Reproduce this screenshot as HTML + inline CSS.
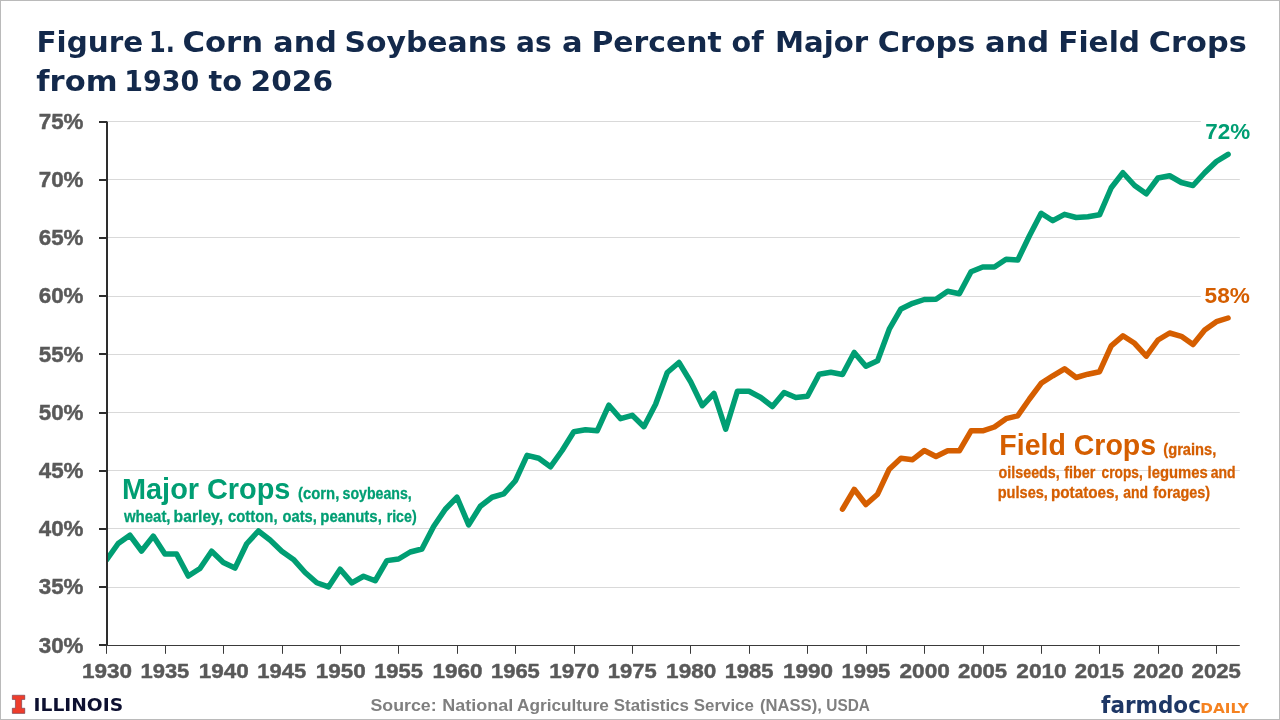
<!DOCTYPE html>
<html lang="en"><head><meta charset="utf-8"><title>Figure 1. Corn and Soybeans as a Percent of Major Crops and Field Crops</title>
<style>
html,body{margin:0;padding:0;background:#fff;}
body{width:1280px;height:720px;overflow:hidden;}
svg{display:block;}
text{font-family:"Liberation Sans",sans-serif;font-weight:bold;}
.dj{font-family:"DejaVu Sans","Liberation Sans",sans-serif;}
</style></head><body>
<svg width="1280" height="720" viewBox="0 0 1280 720">
<rect x="0.5" y="0.5" width="1279" height="719" fill="#fff" stroke="#bababa" stroke-width="1"/>

<g fill="#d9d9d9">
<rect x="108" y="587" width="1131.8" height="1"/>
<rect x="108" y="528" width="1131.8" height="1"/>
<rect x="108" y="470" width="1131.8" height="1"/>
<rect x="108" y="412" width="1131.8" height="1"/>
<rect x="108" y="354" width="1131.8" height="1"/>
<rect x="108" y="296" width="1092.8" height="1"/>
<rect x="108" y="237" width="1131.8" height="1"/>
<rect x="108" y="179" width="1131.8" height="1"/>
<rect x="108" y="121" width="1092.8" height="1"/>
</g>
<clipPath id="plot"><rect x="106.5" y="100" width="1150" height="560"/></clipPath>
<polyline clip-path="url(#plot)" points="106.5,560 118.18,543.5 129.87,535.25 141.55,551 153.23,536.1 164.91,554 176.6,554 188.28,576 199.96,568.5 211.65,551.25 223.33,562.5 235.01,568.1 246.7,543.75 258.38,531.0 270.06,540 281.75,551.25 293.43,559.4 305.11,572.5 316.79,582.75 328.48,586.9 340.16,569.25 351.84,582.9 363.53,576.25 375.21,580.75 386.89,560.6 398.57,559 410.26,552 421.94,549 433.62,526.5 445.31,509.25 456.99,497.25 468.67,524.85 480.36,506.25 492.04,497.25 503.72,493.8 515.4,480.75 527.09,455.4 538.77,458.25 550.45,466.8 562.14,450.5 573.82,431.7 585.5,429.7 597.19,430.8 608.87,405.2 620.55,418.7 632.24,415.3 643.92,426.7 655.6,404.2 667.28,372.5 678.97,362.5 690.65,381.7 702.33,405.7 714.02,393.5 725.7,429.2 737.38,391.3 749.06,391.3 760.75,397.5 772.43,406.5 784.11,392.5 795.8,397.5 807.48,396.3 819.16,374.2 830.85,372.3 842.53,374.5 854.21,352.5 865.89,366.2 877.58,360.8 889.26,329.2 900.94,308.9 912.63,303.3 924.31,299.5 935.99,299.2 947.68,291.3 959.36,293.7 971.04,271.7 982.73,267 994.41,267 1006.09,259.3 1017.77,260 1029.46,235.8 1041.14,213.3 1052.82,220.7 1064.51,214.3 1076.19,217.5 1087.87,216.8 1099.55,214.8 1111.24,187.75 1122.92,172.75 1134.6,185.5 1146.29,193.75 1157.97,178 1169.65,175.75 1181.34,182.5 1193.02,185.5 1204.7,172.75 1216.38,161.5 1228.07,154.3" fill="none" stroke="#009E73" stroke-width="5.5" stroke-linejoin="round" stroke-linecap="round"/>
<polyline points="842.53,509.2 854.21,489.3 865.89,504.5 877.58,494.2 889.26,469.2 900.94,458.3 912.63,459.7 924.31,450.5 935.99,456.5 947.68,450.8 959.36,450.8 971.04,430.8 982.73,430.8 994.41,427 1006.09,418.7 1017.77,415.8 1029.46,399 1041.14,383.3 1052.82,375.8 1064.51,368.8 1076.19,377.5 1087.87,374.2 1099.55,371.7 1111.24,345.8 1122.92,335.8 1134.6,343.3 1146.29,356.2 1157.97,340 1169.65,333 1181.34,336.3 1193.02,344.5 1204.7,330 1216.38,321.7 1228.07,318" fill="none" stroke="#D55E00" stroke-width="5.5" stroke-linejoin="round" stroke-linecap="round"/>
<g fill="#2e2e2e">
<rect x="106" y="121.5" width="2" height="524"/>
<rect x="106" y="645" width="1133.8" height="1" fill="#3a3a3a"/>
<rect x="99" y="644" width="8" height="2"/>
<rect x="99" y="586" width="8" height="2"/>
<rect x="99" y="528" width="8" height="2"/>
<rect x="99" y="470" width="8" height="2"/>
<rect x="99" y="412" width="8" height="2"/>
<rect x="99" y="353" width="8" height="2"/>
<rect x="99" y="295" width="8" height="2"/>
<rect x="99" y="237" width="8" height="2"/>
<rect x="99" y="179" width="8" height="2"/>
<rect x="99" y="121" width="8" height="2"/>
<rect x="106" y="645" width="1" height="8.8" fill="#3a3a3a"/>
<rect x="165" y="645" width="1" height="8.8" fill="#3a3a3a"/>
<rect x="223" y="645" width="1" height="8.8" fill="#3a3a3a"/>
<rect x="282" y="645" width="1" height="8.8" fill="#3a3a3a"/>
<rect x="340" y="645" width="1" height="8.8" fill="#3a3a3a"/>
<rect x="398" y="645" width="1" height="8.8" fill="#3a3a3a"/>
<rect x="457" y="645" width="1" height="8.8" fill="#3a3a3a"/>
<rect x="515" y="645" width="1" height="8.8" fill="#3a3a3a"/>
<rect x="574" y="645" width="1" height="8.8" fill="#3a3a3a"/>
<rect x="632" y="645" width="1" height="8.8" fill="#3a3a3a"/>
<rect x="690" y="645" width="1" height="8.8" fill="#3a3a3a"/>
<rect x="749" y="645" width="1" height="8.8" fill="#3a3a3a"/>
<rect x="807" y="645" width="1" height="8.8" fill="#3a3a3a"/>
<rect x="866" y="645" width="1" height="8.8" fill="#3a3a3a"/>
<rect x="924" y="645" width="1" height="8.8" fill="#3a3a3a"/>
<rect x="983" y="645" width="1" height="8.8" fill="#3a3a3a"/>
<rect x="1041" y="645" width="1" height="8.8" fill="#3a3a3a"/>
<rect x="1099" y="645" width="1" height="8.8" fill="#3a3a3a"/>
<rect x="1158" y="645" width="1" height="8.8" fill="#3a3a3a"/>
<rect x="1216" y="645" width="1" height="8.8" fill="#3a3a3a"/>
</g>
<text class="dj" x="36.46" y="51.6" font-size="28.9px" fill="#13294B" textLength="106.64" lengthAdjust="spacingAndGlyphs">Figure</text>
<text class="dj" x="149.01" y="51.6" font-size="28.9px" fill="#13294B" textLength="25.84" lengthAdjust="spacingAndGlyphs">1.</text>
<text class="dj" x="182.44" y="51.6" font-size="28.9px" fill="#13294B" textLength="80.53" lengthAdjust="spacingAndGlyphs">Corn</text>
<text class="dj" x="273.35" y="51.6" font-size="28.9px" fill="#13294B" textLength="63.50" lengthAdjust="spacingAndGlyphs">and</text>
<text class="dj" x="344.43" y="51.6" font-size="28.9px" fill="#13294B" textLength="162.30" lengthAdjust="spacingAndGlyphs">Soybeans</text>
<text class="dj" x="516.03" y="51.6" font-size="28.9px" fill="#13294B" textLength="35.63" lengthAdjust="spacingAndGlyphs">as</text>
<text class="dj" x="561.94" y="51.6" font-size="28.9px" fill="#13294B" textLength="20.64" lengthAdjust="spacingAndGlyphs">a</text>
<text class="dj" x="591.43" y="51.6" font-size="28.9px" fill="#13294B" textLength="130.37" lengthAdjust="spacingAndGlyphs">Percent</text>
<text class="dj" x="731.51" y="51.6" font-size="28.9px" fill="#13294B" textLength="32.06" lengthAdjust="spacingAndGlyphs">of</text>
<text class="dj" x="775.08" y="51.6" font-size="28.9px" fill="#13294B" textLength="93.16" lengthAdjust="spacingAndGlyphs">Major</text>
<text class="dj" x="877.75" y="51.6" font-size="28.9px" fill="#13294B" textLength="97.50" lengthAdjust="spacingAndGlyphs">Crops</text>
<text class="dj" x="984.94" y="51.6" font-size="28.9px" fill="#13294B" textLength="64.34" lengthAdjust="spacingAndGlyphs">and</text>
<text class="dj" x="1058.15" y="51.6" font-size="28.9px" fill="#13294B" textLength="81.88" lengthAdjust="spacingAndGlyphs">Field</text>
<text class="dj" x="1148.85" y="51.6" font-size="28.9px" fill="#13294B" textLength="97.91" lengthAdjust="spacingAndGlyphs">Crops</text>
<text class="dj" x="36.30" y="90.6" font-size="28.9px" fill="#13294B" textLength="81.23" lengthAdjust="spacingAndGlyphs">from</text>
<text class="dj" x="124.30" y="90.6" font-size="28.9px" fill="#13294B" textLength="74.92" lengthAdjust="spacingAndGlyphs">1930</text>
<text class="dj" x="208.50" y="90.6" font-size="28.9px" fill="#13294B" textLength="33.65" lengthAdjust="spacingAndGlyphs">to</text>
<text class="dj" x="250.55" y="90.6" font-size="28.9px" fill="#13294B" textLength="82.48" lengthAdjust="spacingAndGlyphs">2026</text>
<text x="122.02" y="499.3" font-size="29.6px" fill="#009E73" textLength="168.42" lengthAdjust="spacingAndGlyphs">Major Crops</text>
<text x="298.00" y="498.8" font-size="16.6px" fill="#009E73" stroke="#009E73" stroke-width="0.3" textLength="41.30" lengthAdjust="spacingAndGlyphs">(corn,</text>
<text x="342.50" y="498.8" font-size="16.6px" fill="#009E73" stroke="#009E73" stroke-width="0.3" textLength="69.27" lengthAdjust="spacingAndGlyphs">soybeans,</text>
<text x="123.90" y="522" font-size="16.6px" fill="#009E73" stroke="#009E73" stroke-width="0.3" textLength="46.65" lengthAdjust="spacingAndGlyphs">wheat,</text>
<text x="173.55" y="522" font-size="16.6px" fill="#009E73" stroke="#009E73" stroke-width="0.3" textLength="49.53" lengthAdjust="spacingAndGlyphs">barley,</text>
<text x="228.00" y="522" font-size="16.6px" fill="#009E73" stroke="#009E73" stroke-width="0.3" textLength="49.55" lengthAdjust="spacingAndGlyphs">cotton,</text>
<text x="282.50" y="522" font-size="16.6px" fill="#009E73" stroke="#009E73" stroke-width="0.3" textLength="34.29" lengthAdjust="spacingAndGlyphs">oats,</text>
<text x="320.35" y="522" font-size="16.6px" fill="#009E73" stroke="#009E73" stroke-width="0.3" textLength="61.45" lengthAdjust="spacingAndGlyphs">peanuts,</text>
<text x="386.64" y="522" font-size="16.6px" fill="#009E73" stroke="#009E73" stroke-width="0.3" textLength="30.06" lengthAdjust="spacingAndGlyphs">rice)</text>
<text x="999.34" y="455.3" font-size="29.6px" fill="#D55E00" textLength="156.81" lengthAdjust="spacingAndGlyphs">Field Crops</text>
<text x="1163.30" y="455" font-size="16.6px" fill="#D55E00" stroke="#D55E00" stroke-width="0.3" textLength="53.04" lengthAdjust="spacingAndGlyphs">(grains,</text>
<text x="998.60" y="478" font-size="16.6px" fill="#D55E00" stroke="#D55E00" stroke-width="0.3" textLength="61.13" lengthAdjust="spacingAndGlyphs">oilseeds,</text>
<text x="1064.20" y="478" font-size="16.6px" fill="#D55E00" stroke="#D55E00" stroke-width="0.3" textLength="31.13" lengthAdjust="spacingAndGlyphs">fiber</text>
<text x="1101.60" y="478" font-size="16.6px" fill="#D55E00" stroke="#D55E00" stroke-width="0.3" textLength="41.10" lengthAdjust="spacingAndGlyphs">crops,</text>
<text x="1147.61" y="478" font-size="16.6px" fill="#D55E00" stroke="#D55E00" stroke-width="0.3" textLength="60.10" lengthAdjust="spacingAndGlyphs">legumes</text>
<text x="1210.80" y="478" font-size="16.6px" fill="#D55E00" stroke="#D55E00" stroke-width="0.3" textLength="24.81" lengthAdjust="spacingAndGlyphs">and</text>
<text x="997.72" y="498.1" font-size="16.6px" fill="#D55E00" stroke="#D55E00" stroke-width="0.3" textLength="50.21" lengthAdjust="spacingAndGlyphs">pulses,</text>
<text x="1050.88" y="498.1" font-size="16.6px" fill="#D55E00" stroke="#D55E00" stroke-width="0.3" textLength="67.98" lengthAdjust="spacingAndGlyphs">potatoes,</text>
<text x="1123.30" y="498.1" font-size="16.6px" fill="#D55E00" stroke="#D55E00" stroke-width="0.3" textLength="24.81" lengthAdjust="spacingAndGlyphs">and</text>
<text x="1153.30" y="498.1" font-size="16.6px" fill="#D55E00" stroke="#D55E00" stroke-width="0.3" textLength="56.86" lengthAdjust="spacingAndGlyphs">forages)</text>
<text x="370.50" y="710.75" font-size="16.5px" fill="#7f7f7f" textLength="66.11" lengthAdjust="spacingAndGlyphs">Source:</text>
<text x="442.16" y="710.75" font-size="16.5px" fill="#7f7f7f" textLength="70.98" lengthAdjust="spacingAndGlyphs">National</text>
<text x="517.00" y="710.75" font-size="16.5px" fill="#7f7f7f" textLength="91.93" lengthAdjust="spacingAndGlyphs">Agriculture</text>
<text x="613.75" y="710.75" font-size="16.5px" fill="#7f7f7f" textLength="75.18" lengthAdjust="spacingAndGlyphs">Statistics</text>
<text x="693.75" y="710.75" font-size="16.5px" fill="#7f7f7f" textLength="60.18" lengthAdjust="spacingAndGlyphs">Service</text>
<text x="760.00" y="710.75" font-size="16.5px" fill="#7f7f7f" textLength="61.84" lengthAdjust="spacingAndGlyphs">(NASS),</text>
<text x="826.25" y="710.75" font-size="16.5px" fill="#7f7f7f" textLength="43.67" lengthAdjust="spacingAndGlyphs">USDA</text>
<text x="1205.25" y="139" font-size="21.3px" fill="#009E73" textLength="44.88" lengthAdjust="spacingAndGlyphs">72%</text>
<text x="1204.60" y="302.7" font-size="21.3px" fill="#D55E00" textLength="45.33" lengthAdjust="spacingAndGlyphs">58%</text>
<text class="dj" x="33.57" y="710.8" font-size="18.2px" fill="#0d1030" textLength="89.55" lengthAdjust="spacingAndGlyphs">ILLINOIS</text>
<text class="dj" x="1101.10" y="713.1" font-size="23px" fill="#1e3765" textLength="99.79" lengthAdjust="spacingAndGlyphs">farmdoc</text>
<text class="dj" x="1200.33" y="713.1" font-size="14.3px" fill="#F58220" textLength="48.48" lengthAdjust="spacingAndGlyphs">DAILY</text>
<text x="38.75" y="652.5" font-size="21.8px" fill="#595959" stroke="#595959" stroke-width="0.45" textLength="44.74" lengthAdjust="spacingAndGlyphs">30%</text>
<text x="38.75" y="594.3" font-size="21.8px" fill="#595959" stroke="#595959" stroke-width="0.45" textLength="44.74" lengthAdjust="spacingAndGlyphs">35%</text>
<text x="38.75" y="536.1" font-size="21.8px" fill="#595959" stroke="#595959" stroke-width="0.45" textLength="44.74" lengthAdjust="spacingAndGlyphs">40%</text>
<text x="38.75" y="477.9" font-size="21.8px" fill="#595959" stroke="#595959" stroke-width="0.45" textLength="44.74" lengthAdjust="spacingAndGlyphs">45%</text>
<text x="38.75" y="419.7" font-size="21.8px" fill="#595959" stroke="#595959" stroke-width="0.45" textLength="44.74" lengthAdjust="spacingAndGlyphs">50%</text>
<text x="38.75" y="361.5" font-size="21.8px" fill="#595959" stroke="#595959" stroke-width="0.45" textLength="44.74" lengthAdjust="spacingAndGlyphs">55%</text>
<text x="38.75" y="303.3" font-size="21.8px" fill="#595959" stroke="#595959" stroke-width="0.45" textLength="44.74" lengthAdjust="spacingAndGlyphs">60%</text>
<text x="38.75" y="245.1" font-size="21.8px" fill="#595959" stroke="#595959" stroke-width="0.45" textLength="44.74" lengthAdjust="spacingAndGlyphs">65%</text>
<text x="38.75" y="186.9" font-size="21.8px" fill="#595959" stroke="#595959" stroke-width="0.45" textLength="44.74" lengthAdjust="spacingAndGlyphs">70%</text>
<text x="38.75" y="128.7" font-size="21.8px" fill="#595959" stroke="#595959" stroke-width="0.45" textLength="44.74" lengthAdjust="spacingAndGlyphs">75%</text>
<text x="82.03" y="677.9" font-size="21.0px" fill="#595959" stroke="#595959" stroke-width="0.45" textLength="50.00" lengthAdjust="spacingAndGlyphs">1930</text>
<text x="140.45" y="677.9" font-size="21.0px" fill="#595959" stroke="#595959" stroke-width="0.45" textLength="48.91" lengthAdjust="spacingAndGlyphs">1935</text>
<text x="198.83" y="677.9" font-size="21.0px" fill="#595959" stroke="#595959" stroke-width="0.45" textLength="50.00" lengthAdjust="spacingAndGlyphs">1940</text>
<text x="257.35" y="677.9" font-size="21.0px" fill="#595959" stroke="#595959" stroke-width="0.45" textLength="48.91" lengthAdjust="spacingAndGlyphs">1945</text>
<text x="315.73" y="677.9" font-size="21.0px" fill="#595959" stroke="#595959" stroke-width="0.45" textLength="50.00" lengthAdjust="spacingAndGlyphs">1950</text>
<text x="374.15" y="677.9" font-size="21.0px" fill="#595959" stroke="#595959" stroke-width="0.45" textLength="48.91" lengthAdjust="spacingAndGlyphs">1955</text>
<text x="432.53" y="677.9" font-size="21.0px" fill="#595959" stroke="#595959" stroke-width="0.45" textLength="50.00" lengthAdjust="spacingAndGlyphs">1960</text>
<text x="490.95" y="677.9" font-size="21.0px" fill="#595959" stroke="#595959" stroke-width="0.45" textLength="48.91" lengthAdjust="spacingAndGlyphs">1965</text>
<text x="549.33" y="677.9" font-size="21.0px" fill="#595959" stroke="#595959" stroke-width="0.45" textLength="50.00" lengthAdjust="spacingAndGlyphs">1970</text>
<text x="607.75" y="677.9" font-size="21.0px" fill="#595959" stroke="#595959" stroke-width="0.45" textLength="48.91" lengthAdjust="spacingAndGlyphs">1975</text>
<text x="666.13" y="677.9" font-size="21.0px" fill="#595959" stroke="#595959" stroke-width="0.45" textLength="50.10" lengthAdjust="spacingAndGlyphs">1980</text>
<text x="724.65" y="677.9" font-size="21.0px" fill="#595959" stroke="#595959" stroke-width="0.45" textLength="48.91" lengthAdjust="spacingAndGlyphs">1985</text>
<text x="783.03" y="677.9" font-size="21.0px" fill="#595959" stroke="#595959" stroke-width="0.45" textLength="50.00" lengthAdjust="spacingAndGlyphs">1990</text>
<text x="841.45" y="677.9" font-size="21.0px" fill="#595959" stroke="#595959" stroke-width="0.45" textLength="48.91" lengthAdjust="spacingAndGlyphs">1995</text>
<text x="899.50" y="677.9" font-size="21.0px" fill="#595959" stroke="#595959" stroke-width="0.45" textLength="50.33" lengthAdjust="spacingAndGlyphs">2000</text>
<text x="957.90" y="677.9" font-size="21.0px" fill="#595959" stroke="#595959" stroke-width="0.45" textLength="49.26" lengthAdjust="spacingAndGlyphs">2005</text>
<text x="1016.30" y="677.9" font-size="21.0px" fill="#595959" stroke="#595959" stroke-width="0.45" textLength="50.33" lengthAdjust="spacingAndGlyphs">2010</text>
<text x="1074.70" y="677.9" font-size="21.0px" fill="#595959" stroke="#595959" stroke-width="0.45" textLength="49.26" lengthAdjust="spacingAndGlyphs">2015</text>
<text x="1133.20" y="677.9" font-size="21.0px" fill="#595959" stroke="#595959" stroke-width="0.45" textLength="50.33" lengthAdjust="spacingAndGlyphs">2020</text>
<text x="1191.60" y="677.9" font-size="21.0px" fill="#595959" stroke="#595959" stroke-width="0.45" textLength="49.26" lengthAdjust="spacingAndGlyphs">2025</text>
<path d="M12.3 695.2h12.5v4.3h-3.1v8.7h3.1v5.2H12.3v-5.2h3.1v-8.7h-3.1z" fill="#EE3D2C" stroke="#3a2340" stroke-width="0.45"/>
</svg></body></html>
